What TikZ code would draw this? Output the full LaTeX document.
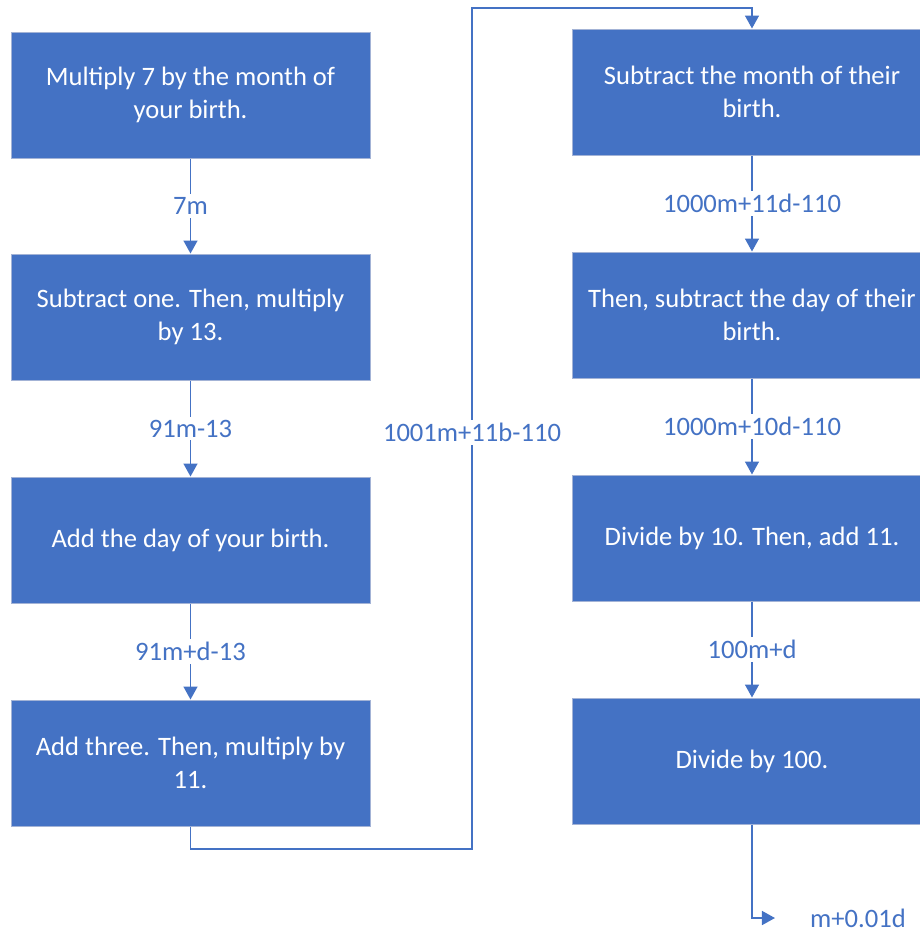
\documentclass[tikz,border=0pt]{standalone}
\usepackage{fontspec}
\setmainfont{Carlito}
\usetikzlibrary{arrows.meta}
\definecolor{officeblue}{HTML}{4472C4}
\definecolor{edgegray}{HTML}{A3B3D6}
\begin{document}
\begin{tikzpicture}[x=1pt,y=1pt,
    font=\fontsize{26.6}{33.5}\selectfont,
    stepbox/.style={fill=officeblue,draw=edgegray,line width=1pt,text=white,
      minimum width=359pt,minimum height=126pt,inner sep=0pt,align=center},
    flow/.style={officeblue,line width=1.6pt,-{Triangle[width=14pt,length=13pt]}},
    val/.style={fill=white,text=officeblue,inner sep=3pt}]
    \useasboundingbox (0,0) rectangle (920,-930);

    \node[stepbox] (L1) at (190.5,-95) {Multiply 7 by the month of\\your birth.};
    \node[stepbox] (L2) at (190.5,-317) {Subtract one. Then, multiply\\by 13.};
    \node[stepbox] (L3) at (190.5,-540) {Add the day of your birth.};
    \node[stepbox] (L4) at (190.5,-763) {Add three. Then, multiply by\\11.};

    \node[stepbox] (R1) at (752,-92) {Subtract the month of their\\birth.};
    \node[stepbox] (R2) at (752,-315) {Then, subtract the day of their\\birth.};
    \node[stepbox] (R3) at (752,-538) {Divide by 10. Then, add 11.};
    \node[stepbox] (R4) at (752,-761) {Divide by 100.};

    \node[text=officeblue,inner sep=2pt] (Res) at (858,-918) {m+0.01d};
    \coordinate (LoopLow) at (472,-849);
    \coordinate (LoopHigh) at (472,-8);

    \draw[flow] (L1) -- node[val] {7m} (L2);
    \draw[flow] (L2) -- node[val] {91m-13} (L3);
    \draw[flow] (L3) -- node[val] {91m+d-13} (L4);
    \draw[flow] (L4.south) |- (LoopLow) -- node[val,pos=0.495] {1001m+11b-110} (LoopHigh) -| (R1.north);
    \draw[flow] (R1) -- node[val] {1000m+11d-110} (R2);
    \draw[flow] (R2) -- node[val] {1000m+10d-110} (R3);
    \draw[flow] (R3) -- node[val] {100m+d} (R4);
    \draw[flow,shorten >=33pt] (R4.south) |- (Res);
\end{tikzpicture}
\end{document}
